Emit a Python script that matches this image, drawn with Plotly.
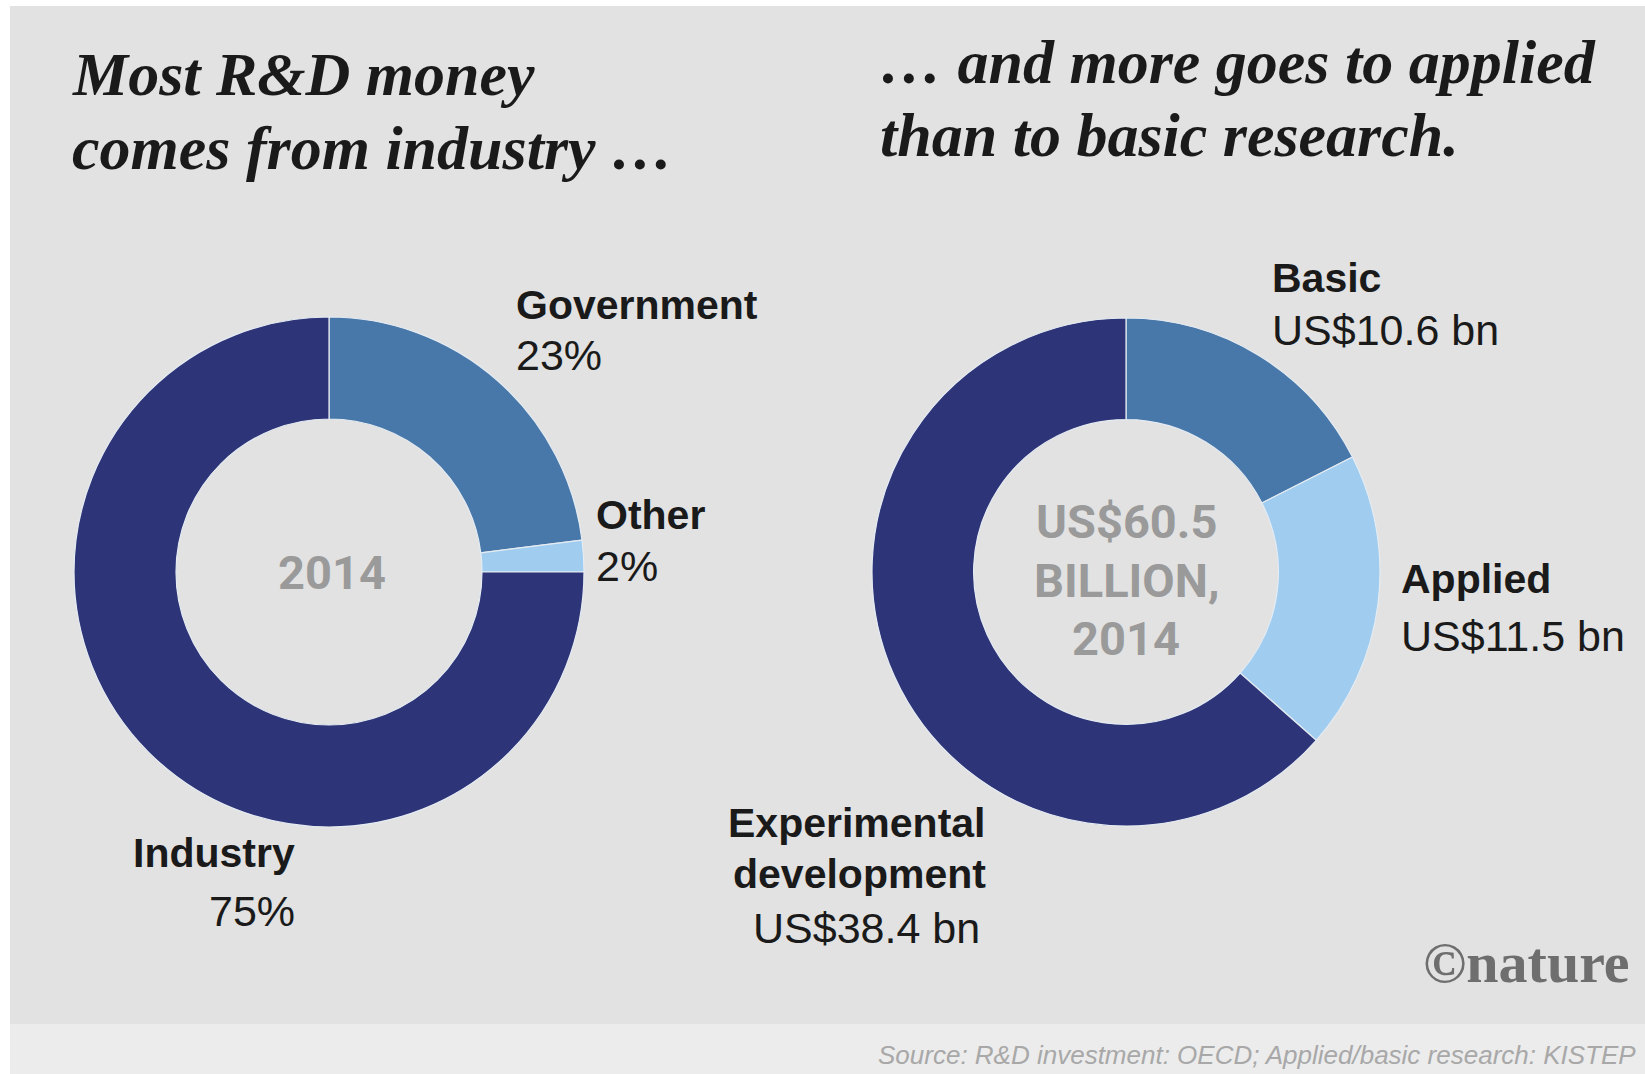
import plotly.graph_objects as go

W, H = 1645, 1074

# Sources of R&D funding, 2014 (share of total, %)
source_labels = ["Government", "Other", "Industry"]
source_shares = [23, 2, 75]

# Type of research funded, 2014 (US$ billion)
research_labels = ["Basic", "Applied", "Experimental development"]
research_values = [10.6, 11.5, 38.4]
research_total = "US$60.5"

NAVY = "#2d3477"
STEEL = "#4878a9"
LIGHT = "#a0cdef"
source_colors = [STEEL, LIGHT, NAVY]
research_colors = [STEEL, LIGHT, NAVY]


def px_x(x):
    return x / W


def px_y(y):
    return 1 - y / H


def donut_domain(cx, cy, r):
    return dict(x=[px_x(cx - r), px_x(cx + r)], y=[px_y(cy + r), px_y(cy - r)])


fig = go.Figure()

fig.add_trace(go.Pie(
    labels=source_labels, values=source_shares, sort=False,
    direction="clockwise", rotation=0, hole=0.6,
    marker=dict(colors=source_colors, line=dict(color="#e4ebf2", width=1.2)),
    textinfo="none", hoverinfo="label+percent", showlegend=False,
    domain=donut_domain(329, 572, 255),
))
fig.add_trace(go.Pie(
    labels=research_labels, values=research_values, sort=False,
    direction="clockwise", rotation=0, hole=0.6,
    marker=dict(colors=research_colors, line=dict(color="#e4ebf2", width=1.2)),
    textinfo="none", hoverinfo="label+value", showlegend=False,
    domain=donut_domain(1126, 572, 254),
))

shapes = [
    # main grey panel
    dict(type="rect", xref="paper", yref="paper", layer="below",
         x0=px_x(10), x1=1, y0=px_y(1024), y1=px_y(6),
         fillcolor="#e2e2e2", line=dict(width=0)),
    # lighter footer band
    dict(type="rect", xref="paper", yref="paper", layer="below",
         x0=px_x(10), x1=1, y0=0, y1=px_y(1024),
         fillcolor="#ececec", line=dict(width=0)),
]

TITLE_FONT = dict(family="Liberation Serif", size=62, color="#1a1a1a")
BOLD = dict(family="Liberation Sans", size=41, color="#1a1a1a")
REG = dict(family="Liberation Sans", size=43, color="#1a1a1a")
CENTER = dict(family="Roboto, Liberation Sans", size=47, color="#9a9a9a")

annotations = []


def text(x, y, s, font, xanchor="left", yanchor="middle"):
    annotations.append(dict(
        x=px_x(x), y=px_y(y), xref="paper", yref="paper", text=s,
        showarrow=False, xanchor=xanchor, yanchor=yanchor, font=font,
    ))


# headings
text(70, 74, "<b><i>Most R&amp;D money</i></b>", TITLE_FONT)
text(70, 148, "<b><i>comes from industry …</i></b>", TITLE_FONT)
text(878, 62, "<b><i>… and more goes to applied</i></b>", TITLE_FONT)
text(878, 135, "<b><i>than to basic research.</i></b>", TITLE_FONT)

# left donut labels
text(514, 305, "<b>Government</b>", BOLD)
text(514, 355, f"{source_shares[0]}%", REG)
text(594, 515, "<b>Other</b>", BOLD)
text(594, 566, f"{source_shares[1]}%", REG)
text(297, 853, "<b>Industry</b>", BOLD, xanchor="right")
text(297, 911, f"{source_shares[2]}%", REG, xanchor="right")
text(332, 572, "<b>2014</b>", CENTER, xanchor="center")

# right donut labels
text(1270, 278, "<b>Basic</b>", BOLD)
text(1270, 330, f"US${research_values[0]} bn", REG)
text(1399, 579, "<b>Applied</b>", BOLD)
text(1399, 636, f"US${research_values[1]} bn", REG)
text(988, 823, "<b>Experimental</b>", BOLD, xanchor="right")
text(988, 874, "<b>development</b>", BOLD, xanchor="right")
text(982, 928, f"US${research_values[2]} bn", REG, xanchor="right")
text(1126, 521, f"<b>{research_total}</b>", CENTER, xanchor="center")
text(1126, 580, "<b>BILLION,</b>", CENTER, xanchor="center")
text(1126, 638, "<b>2014</b>", CENTER, xanchor="center")

# credit and source
text(1632, 962, "<b>©nature</b>",
     dict(family="Liberation Serif", size=58, color="#6e6e6e"), xanchor="right")
text(1638, 1055, "<i>Source: R&amp;D investment: OECD; Applied/basic research: KISTEP</i>",
     dict(family="Liberation Sans", size=26, color="#a8a8a8"), xanchor="right")

fig.update_layout(
    width=W, height=H, margin=dict(l=0, r=0, t=0, b=0),
    paper_bgcolor="white", plot_bgcolor="white",
    shapes=shapes, annotations=annotations,
)

fig.write_html("out.html")
